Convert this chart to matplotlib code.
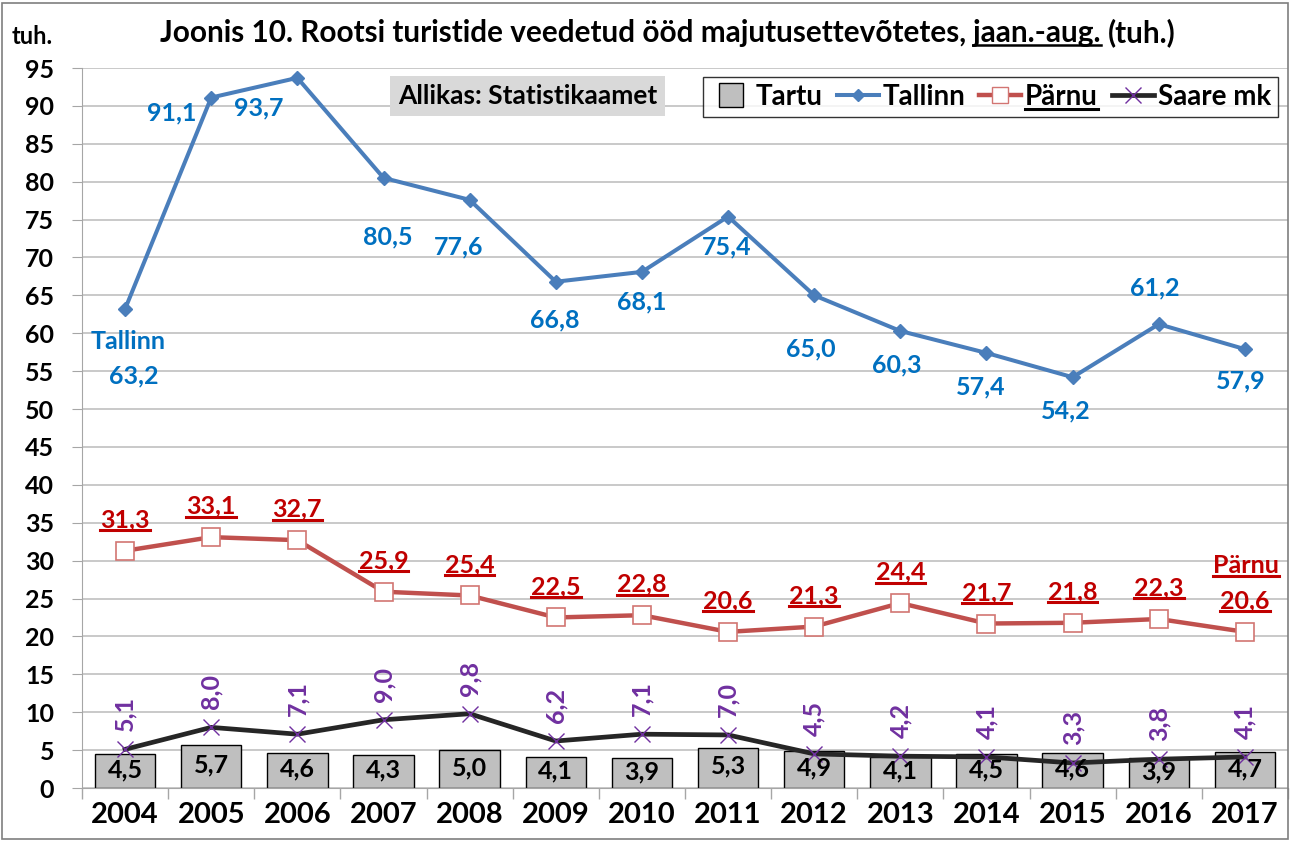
import matplotlib
matplotlib.use('Agg')
import numpy as np
import matplotlib.pyplot as plt
from matplotlib.lines import Line2D
from matplotlib.patches import Rectangle
from matplotlib.transforms import IdentityTransform

years = ['2004', '2005', '2006', '2007', '2008', '2009', '2010',
         '2011', '2012', '2013', '2014', '2015', '2016', '2017']
tartu = [4.5, 5.7, 4.6, 4.3, 5.0, 4.1, 3.9, 5.3, 4.9, 4.1, 4.5, 4.6, 3.9, 4.7]
tallinn = [63.2, 91.1, 93.7, 80.5, 77.6, 66.8, 68.1, 75.4, 65.0, 60.3, 57.4, 54.2, 61.2, 57.9]
parnu = [31.3, 33.1, 32.7, 25.9, 25.4, 22.5, 22.8, 20.6, 21.3, 24.4, 21.7, 21.8, 22.3, 20.6]
saare = [5.1, 8.0, 7.1, 9.0, 9.8, 6.2, 7.1, 7.0, 4.5, 4.2, 4.1, 3.3, 3.8, 4.1]

# label offsets for Tallinn (pixels, label centre relative to the point)
tallinn_off = [(9, -67), (-39, -15), (-39, -30), (4, -59), (-11, -47), (-1, -38), (0, -30),
               (-1, -30), (-3, -54), (-4, -34), (-6, -34), (-7, -34), (-4, 36), (-4, -32)]

plt.rcParams['font.family'] = ['Lato', 'DejaVu Sans']
plt.rcParams['font.weight'] = 'bold'

BLUE = '#4A7EBB'
BLUE_TXT = '#0070C0'
RED = '#C0504D'
RED_TXT = '#C00000'
PURPLE = '#7030A0'
PX = 0.72  # points per pixel at dpi 100


def fmt(v):
    return f'{v:.1f}'.replace('.', ',')


fig = plt.figure(figsize=(12.95, 8.41), dpi=100)
ax = fig.add_axes([82 / 1295, 53 / 841, (1288 - 82) / 1295, 720 / 841])

x = np.arange(len(years))
ax.bar(x, tartu, width=0.7, color='#BFBFBF', edgecolor='black', linewidth=1, zorder=2)
ax.plot(x, saare, color='#262626', lw=3.4, marker='x', ms=12, mec=PURPLE, mew=1, zorder=3)
ax.plot(x, parnu, color=RED, lw=3.2, marker='s', ms=13, mfc='white', mec='#D27572', mew=1.2, zorder=3)
ax.plot(x, tallinn, color=BLUE, lw=2.9, marker='D', ms=7, mfc=BLUE, mec=BLUE, zorder=4)

ax.set_xlim(-0.5, len(years) - 0.5)
ax.set_ylim(0, 95)
ax.set_yticks(range(0, 96, 5))
ax.set_xticks(x)
ax.set_xticklabels(years)
ax.set_xticks(np.arange(-0.5, len(years), 1), minor=True)
ax.tick_params(axis='x', which='major', length=0, pad=10, labelsize=21)
ax.tick_params(axis='x', which='minor', length=8, color='#A6A6A6', width=1)
ax.tick_params(axis='y', length=7, color='#A6A6A6', pad=13, labelsize=18)
ax.yaxis.grid(True, color='#C0C0C0', lw=1.2)
ax.set_axisbelow(True)
for s in ['top', 'right']:
    ax.spines[s].set_visible(False)
ax.spines['left'].set_color('#A6A6A6')
ax.spines['bottom'].set_color('#A6A6A6')
ax.spines['left'].set_zorder(1)

# data labels
for i, v in enumerate(tartu):
    ax.text(i, v / 2 + 0.2, fmt(v), ha='center', va='center', fontsize=18, color='black', zorder=5)

for i, v in enumerate(saare):
    ax.annotate(fmt(v), (i, v), xytext=(0, 18 * PX), textcoords='offset points',
                rotation=90, ha='center', va='bottom', fontsize=18, color=PURPLE, zorder=5)

parnu_texts = []
for i, v in enumerate(parnu):
    t = ax.annotate(fmt(v), (i, v), xytext=(0, 31 * PX), textcoords='offset points',
                    ha='center', va='center', fontsize=18, color=RED_TXT, zorder=5)
    parnu_texts.append(t)
t = ax.annotate('Pärnu', (len(years) - 1, parnu[-1]), xytext=(1, 66 * PX), textcoords='offset points',
                ha='center', va='center', fontsize=18, color=RED_TXT, zorder=5)
parnu_texts.append(t)

for i, v in enumerate(tallinn):
    dx, dy = tallinn_off[i]
    ax.annotate(fmt(v), (i, v), xytext=(dx * PX, dy * PX), textcoords='offset points',
                ha='center', va='center', fontsize=18, color=BLUE_TXT, zorder=5)
ax.annotate('Tallinn', (0, tallinn[0]), xytext=(3 * PX, -32 * PX), textcoords='offset points',
            ha='center', va='center', fontsize=18, color=BLUE_TXT, zorder=5)

# legend
handles = [
    Line2D([], [], ls='none', marker='s', ms=17, mfc='#BFBFBF', mec='black', mew=1),
    Line2D([], [], color=BLUE, lw=2.9, marker='D', ms=6),
    Line2D([], [], color=RED, lw=3.2, marker='s', ms=11, mfc='white', mec='#D27572'),
    Line2D([], [], color='#262626', lw=3.4, marker='x', ms=11, mec=PURPLE, mew=1),
]
leg = ax.legend(handles, ['Tartu', 'Tallinn', 'Pärnu', 'Saare mk'], ncol=4,
                loc='upper right', bbox_to_anchor=(1278 / 1295, 1 - 77 / 841),
                bbox_transform=fig.transFigure, fontsize=20, frameon=True, fancybox=False,
                edgecolor='black', handlelength=1.5, handletextpad=0.15, columnspacing=0.5,
                borderpad=0.25, borderaxespad=0)
leg.get_frame().set_linewidth(1)

fig.text(398 / 1295, 1 - 96 / 841, 'Allikas: Statistikaamet', fontsize=19, va='center', ha='left',
         bbox=dict(boxstyle='square,pad=0.3', fc='#D9D9D9', ec='none'))

fig.text(12 / 1295, 1 - 36 / 841, 'tuh.', fontsize=17, va='center', ha='left')

fig.patches.append(Rectangle((2 / 1295, 2 / 841), 1286 / 1295, 836 / 841, transform=fig.transFigure,
                             fill=False, ec='#7F7F7F', lw=1.2))

fig.canvas.draw()
renderer = fig.canvas.get_renderer()


def underline(t, color, lw=2.0, up=0):
    bb = t.get_window_extent(renderer)
    fig.add_artist(Line2D([bb.x0, bb.x1], [bb.y0 + up, bb.y0 + up],
                          transform=IdentityTransform(), color=color, lw=lw))


for t in parnu_texts:
    underline(t, RED_TXT, 2.2, up=1)
underline(leg.get_texts()[2], 'black', 2.2, up=1)

# title with underlined part
title_parts = [('Joonis 10. Rootsi turistide veedetud ööd majutusettevõtetes,', False),
               ('jaan.-aug.', True), ('(tuh.)', False)]
title_fs = 21.4
tx, ty = 160, 841 - 33
probe = fig.text(0, 0, 'a a', fontsize=title_fs)
probe2 = fig.text(0, 0, 'aa', fontsize=title_fs)
space = probe.get_window_extent(renderer).width - probe2.get_window_extent(renderer).width
probe.remove()
probe2.remove()
for s, ul in title_parts:
    t = fig.text(tx, ty, s, fontsize=title_fs, ha='left', va='center', transform=IdentityTransform())
    bb = t.get_window_extent(renderer)
    if ul:
        underline(t, 'black', 1.8, up=2)
    tx = bb.x1 + space

fig.savefig('out.png', dpi=100)
